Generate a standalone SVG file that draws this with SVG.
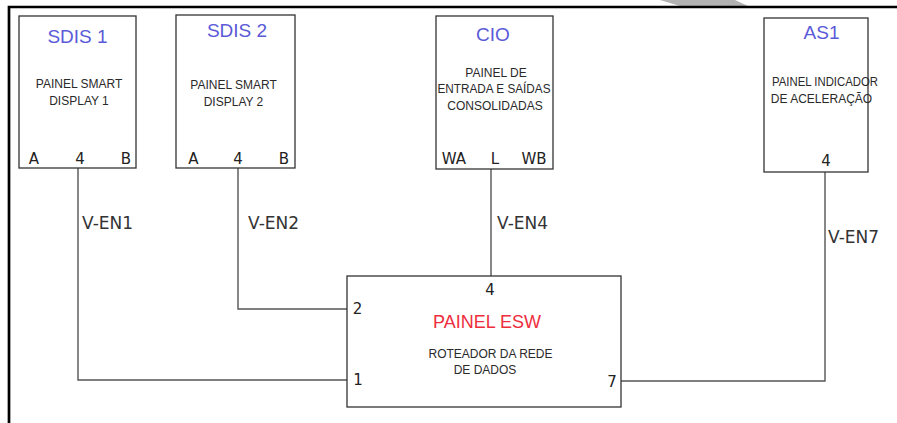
<svg xmlns="http://www.w3.org/2000/svg" width="897" height="423" viewBox="0 0 897 423">
<style>
.box{fill:#fff;stroke:#333;stroke-width:1.3}
.wire{fill:none;stroke:#555;stroke-width:1.4}
.title{font-family:"Liberation Sans",Arial,sans-serif;font-size:19px;fill:#5a5ad8;text-anchor:middle}
.esw{font-family:"Liberation Sans",Arial,sans-serif;font-size:18px;fill:#ee2d3d;text-anchor:middle}
.desc{font-family:"Liberation Sans",Arial,sans-serif;font-size:12px;fill:#2a2a2a;text-anchor:middle}
.pin{font-family:"DejaVu Sans",sans-serif;font-size:15px;fill:#222;text-anchor:middle}
.lbl{font-family:"DejaVu Sans",sans-serif;font-size:17px;fill:#333}
</style>
<rect width="897" height="423" fill="#fff"/>
<polygon points="660,0 735,0 748,6 680,6" fill="#b3b3b3"/>
<path d="M9,423 V7 H897" fill="none" stroke="#000" stroke-width="2.7"/>
<g id="connectors">
<path class="wire" d="M78,168 V380 H347"/>
<path class="wire" d="M238,168 V309 H347"/>
<path class="wire" d="M491,169 V276"/>
<path class="wire" d="M825,172 V381 H621"/>
<text class="lbl" x="82" y="229">V-EN1</text>
<text class="lbl" x="248" y="229">V-EN2</text>
<text class="lbl" x="497" y="229">V-EN4</text>
<text class="lbl" x="828" y="243">V-EN7</text>
</g>
<g id="sdis1">
<rect class="box" x="19" y="16" width="117" height="152"/>
<text class="title" x="77.5" y="43">SDIS 1</text>
<text class="desc" x="79" y="88">PAINEL SMART</text>
<text class="desc" x="79" y="105">DISPLAY 1</text>
<text class="pin" x="34" y="164">A</text>
<text class="pin" x="80" y="164">4</text>
<text class="pin" x="126" y="164">B</text>
</g>
<g id="sdis2">
<rect class="box" x="176" y="15" width="119" height="153"/>
<text class="title" x="237" y="37">SDIS 2</text>
<text class="desc" x="233.5" y="89">PAINEL SMART</text>
<text class="desc" x="233.5" y="106">DISPLAY 2</text>
<text class="pin" x="193.5" y="164">A</text>
<text class="pin" x="238" y="164">4</text>
<text class="pin" x="284" y="164">B</text>
</g>
<g id="cio">
<rect class="box" x="436" y="16" width="117" height="153"/>
<text class="title" x="493" y="41">CIO</text>
<text class="desc" x="496" y="77">PAINEL DE</text>
<text class="desc" x="494" y="93" textLength="113" lengthAdjust="spacingAndGlyphs">ENTRADA E SAÍDAS</text>
<text class="desc" x="495" y="110">CONSOLIDADAS</text>
<text class="pin" x="454" y="164">WA</text>
<text class="pin" x="495" y="164">L</text>
<text class="pin" x="534" y="164">WB</text>
</g>
<g id="as1">
<rect class="box" x="764" y="18" width="104" height="154"/>
<text class="title" x="821.5" y="39">AS1</text>
<text class="desc" x="825" y="86" textLength="106" lengthAdjust="spacingAndGlyphs">PAINEL INDICADOR</text>
<text class="desc" x="821.5" y="103">DE ACELERAÇÃO</text>
<text class="pin" x="826" y="166">4</text>
</g>
<g id="esw">
<rect class="box" x="347" y="276" width="274" height="131"/>
<text class="esw" x="487" y="328">PAINEL ESW</text>
<text class="desc" x="490.5" y="358">ROTEADOR DA REDE</text>
<text class="desc" x="485" y="374">DE DADOS</text>
<text class="pin" x="490" y="295">4</text>
<text class="pin" x="357.5" y="314">2</text>
<text class="pin" x="358" y="385">1</text>
<text class="pin" x="612" y="387">7</text>
</g>
</svg>
